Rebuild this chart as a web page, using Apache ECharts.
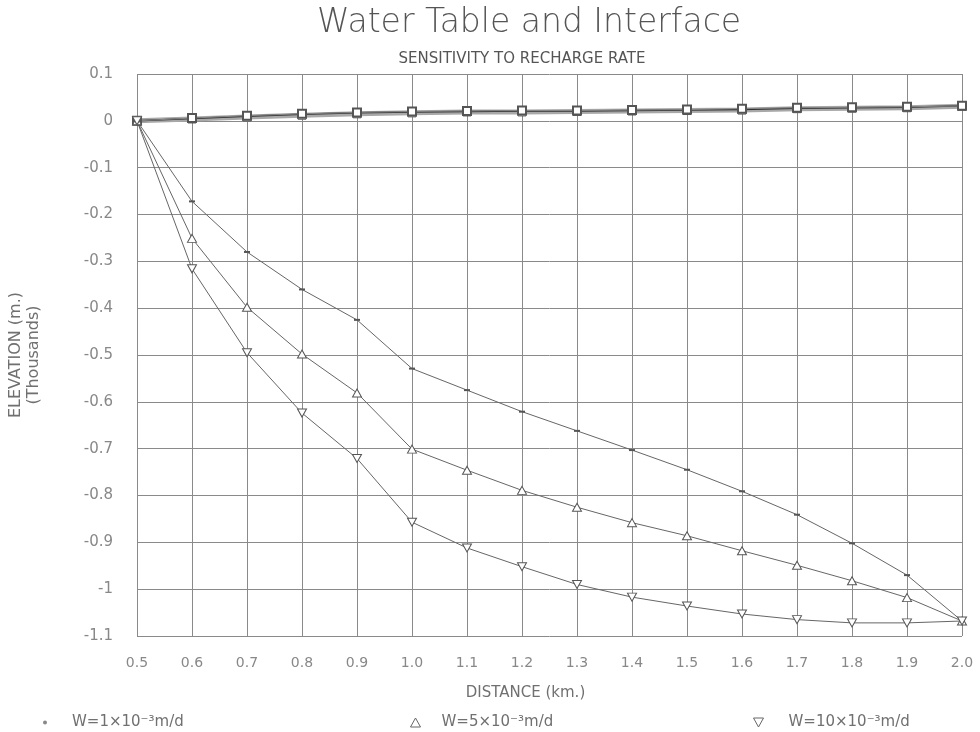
<!DOCTYPE html>
<html>
<head>
<meta charset="utf-8">
<script src="https://cdn.jsdelivr.net/npm/echarts@6/dist/echarts.min.js"></script>
<style>
  html, body { margin: 0; padding: 0; background: #fff; }
  #chart { width: 980px; height: 732px; }
</style>
</head>
<body>
<div id="chart"></div>
<script>
  // distance along section (km)
  var distance = [0.5, 0.6, 0.7, 0.8, 0.9, 1.0, 1.1, 1.2, 1.3, 1.4, 1.5, 1.6, 1.7, 1.8, 1.9, 2.0];

  // water table (thousands of m), one per recharge rate
  var table1 = [0, 0.004, 0.008, 0.012, 0.015, 0.017, 0.019, 0.019, 0.020, 0.021, 0.022, 0.023, 0.026, 0.027, 0.028, 0.031];
  var table5 = [0, 0.005, 0.010, 0.014, 0.017, 0.019, 0.020, 0.021, 0.021, 0.022, 0.023, 0.024, 0.027, 0.028, 0.029, 0.032];
  var table10 = [0, 0.006, 0.011, 0.015, 0.018, 0.020, 0.021, 0.022, 0.022, 0.023, 0.024, 0.026, 0.028, 0.029, 0.030, 0.032];

  // fresh/salt water interface (thousands of m)
  var iface1 = [0, -0.172, -0.280, -0.360, -0.425, -0.529, -0.575, -0.621, -0.662, -0.703, -0.745, -0.791, -0.841, -0.902, -0.970, -1.068];
  var iface5 = [0, -0.251, -0.398, -0.498, -0.581, -0.701, -0.746, -0.789, -0.825, -0.858, -0.886, -0.918, -0.949, -0.982, -1.018, -1.068];
  var iface10 = [0, -0.316, -0.495, -0.624, -0.721, -0.857, -0.912, -0.952, -0.990, -1.017, -1.036, -1.053, -1.065, -1.072, -1.072, -1.068];

  var legendNames = ['W=1×10⁻³m/d', 'W=5×10⁻³m/d', 'W=10×10⁻³m/d'];

  function pairs(ys) {
    return distance.map(function (x, i) { return [x, ys[i]]; });
  }

  var font = 'DejaVu Sans';
  var grey = '#707070';
  var downTri = 'path://M0,0 L10,0 L5,9 Z';

  var myChart = echarts.init(document.getElementById('chart'));
  myChart.setOption({
    animation: false,
    backgroundColor: '#fff',
    title: [
      {
        text: 'Water Table and Interface',
        left: 524, top: 2, textAlign: 'center',
        textStyle: { fontFamily: font, fontSize: 33, fontWeight: 'lighter', color: '#555' }
      },
      {
        text: 'SENSITIVITY TO RECHARGE RATE',
        left: 517, top: 47, textAlign: 'center',
        textStyle: { fontFamily: font, fontSize: 15, fontWeight: 'normal', color: '#555' }
      }
    ],
    legend: [
      {
        left: 38, top: 710, itemWidth: 4, itemHeight: 4,
        textStyle: { fontFamily: font, fontSize: 15, color: grey, padding: [0, 0, 0, 20] },
        data: [{ name: legendNames[0], icon: 'circle', itemStyle: { color: '#888', borderWidth: 0 } }]
      },
      {
        left: 405, top: 710, itemWidth: 10, itemHeight: 9,
        textStyle: { fontFamily: font, fontSize: 15, color: grey, padding: [0, 0, 0, 16] },
        data: [{ name: legendNames[1], icon: 'triangle', itemStyle: { color: '#fff', borderColor: '#666', borderWidth: 1 } }]
      },
      {
        left: 748, top: 710, itemWidth: 10, itemHeight: 9,
        textStyle: { fontFamily: font, fontSize: 15, color: grey, padding: [0, 0, 0, 20] },
        data: [{ name: legendNames[2], icon: downTri, itemStyle: { color: '#fff', borderColor: '#666', borderWidth: 1 } }]
      }
    ],
    grid: { left: 137, right: 18, top: 74, bottom: 96, outerBoundsMode: 'none', containLabel: false },
    xAxis: {
      type: 'value',
      min: 0.5, max: 2.0, interval: 0.1,
      name: 'DISTANCE (km.)',
      nameLocation: 'middle', nameGap: 50,
      nameTextStyle: { fontFamily: font, fontSize: 15, color: grey, padding: [0, 48, 0, 0] },
      axisLine: { show: false },
      axisTick: { show: false },
      axisLabel: {
        margin: 20, fontFamily: font, fontSize: 14, color: '#888',
        formatter: function (v) { return v.toFixed(1); }
      },
      splitLine: { show: true, lineStyle: { color: '#8a8a8a', width: 1 } }
    },
    yAxis: {
      type: 'value',
      min: -1.1, max: 0.1, interval: 0.1,
      name: 'ELEVATION (m.)\n(Thousands)',
      nameLocation: 'middle', nameGap: 94,
      nameTextStyle: { fontFamily: font, fontSize: 16, color: grey, lineHeight: 18 },
      axisLine: { show: false },
      axisTick: { show: false },
      axisLabel: {
        margin: 24, fontFamily: font, fontSize: 15, color: '#888',
        formatter: function (v) {
          var r = Math.round(v * 10) / 10;
          return r === 0 ? '0' : String(r);
        }
      },
      splitLine: { show: true, lineStyle: { color: '#8a8a8a', width: 1 } }
    },
    series: [
      {
        name: 'table1', type: 'line', data: pairs(table1),
        symbol: 'rect', symbolSize: 8,
        lineStyle: { color: '#a8a8a8', width: 5 },
        itemStyle: { color: '#fff', borderColor: '#555', borderWidth: 1 }
      },
      {
        name: 'table5', type: 'line', data: pairs(table5),
        symbol: 'rect', symbolSize: 7,
        lineStyle: { color: '#333', width: 1.5 },
        itemStyle: { color: '#333' }
      },
      {
        name: 'table10', type: 'line', data: pairs(table10),
        symbol: 'emptyRect', symbolSize: 8,
        lineStyle: { color: '#888', width: 1 },
        itemStyle: { color: '#555' }
      },
      {
        name: legendNames[0], type: 'line', data: pairs(iface1),
        symbol: 'rect', symbolSize: [6, 2],
        lineStyle: { color: '#666', width: 1 },
        itemStyle: { color: '#555' }
      },
      {
        name: legendNames[1], type: 'line', data: pairs(iface5),
        symbol: 'triangle', symbolSize: [9, 8],
        lineStyle: { color: '#666', width: 1 },
        itemStyle: { color: '#fff', borderColor: '#555', borderWidth: 1 }
      },
      {
        name: legendNames[2], type: 'line', data: pairs(iface10),
        symbol: downTri, symbolSize: [9, 8],
        lineStyle: { color: '#666', width: 1 },
        itemStyle: { color: '#fff', borderColor: '#555', borderWidth: 1 }
      }
    ]
  });
</script>
</body>
</html>
